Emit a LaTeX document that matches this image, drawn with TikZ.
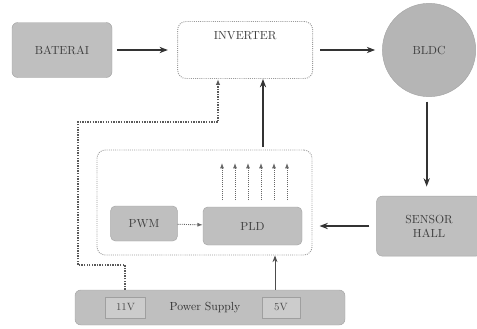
\documentclass[tikz,border=0pt]{standalone}
\usepackage{tikz}
\usetikzlibrary{arrows.meta, positioning, shapes.geometric, fit, calc}

\begin{document}
\begin{tikzpicture}[
    node distance=1.9cm and 2.0cm,
    block/.style={rectangle, draw=gray!70, rounded corners=5pt, fill=gray!50, minimum height=1.65cm, minimum width=3.0cm, align=center, font=\normalsize, text=black!75},
    small/.style={rectangle, draw=gray!70, rounded corners=4pt, fill=gray!50, minimum height=1.05cm, minimum width=2.0cm, align=center, font=\normalsize, text=black!75},
    frame/.style={rectangle, draw=gray!80, densely dotted, thick, rounded corners=7pt, fill=white},
    volt/.style={rectangle, draw=gray!75, fill=gray!40, minimum height=0.63cm, minimum width=1.2cm, font=\small, text=black!70},
    arr/.style={-{Stealth[length=2.5mm]}, line width=1.6pt, black!80},
    thin/.style={-{Stealth[length=2mm]}, line width=0.8pt, black!70},
    sig/.style={-{Latex[length=1.6mm]}, densely dotted, thick, gray!80!black},
    fb/.style={-{Latex[length=1.8mm]}, densely dotted, line width=1.2pt, gray!70!black},
]
    \useasboundingbox (0,0) rectangle (14.31,-9.87);

    \node[block] (bat) at (1.86,-1.5) {BATERAI};
    \node[frame, minimum width=4.05cm, minimum height=1.71cm, right=1.95cm of bat, align=center, font=\normalsize, text=black!75] (inv) {INVERTER\\[0.45cm]};
    \node[circle, draw=gray!70, fill=gray!58, minimum size=2.8cm, font=\normalsize, text=black!75, right=2.07cm of inv] (bldc) {BLDC};
    \node[block, minimum width=3.15cm, minimum height=1.8cm, below=2.97cm of bldc] (hall) {SENSOR\\HALL};

    % kontroler
    \node[frame, minimum width=6.45cm, minimum height=3.15cm] (ctrl) at (6.135,-6.075) {};
    \node[small] (pwm) at (4.32,-6.705) {PWM};
    \node[small, minimum width=2.97cm, minimum height=1.14cm] (pld) at (7.575,-6.78) {PLD};

    % catu daya
    \node[block, minimum width=8.1cm, minimum height=1.05cm] (psu) at (6.3,-9.225) {};
    \node[volt] (v1) at (3.765,-9.225) {11V};
    \node[font=\normalsize, text=black!80] (pslabel) at (6.15,-9.225) {Power Supply};
    \node[volt, minimum width=1.14cm] (v2) at (8.43,-9.225) {5V};

    \coordinate (upx) at (7.89,0);
    \coordinate (psx) at (8.25,0);

    \draw[arr, shorten <=4pt, shorten >=8pt] (bat) -- (inv);
    \draw[arr, shorten <=6pt, shorten >=6pt] (inv) -- (bldc);
    \draw[arr, shorten <=4pt, shorten >=8pt] (bldc.south -| 12.8,0) -- (hall.north -| 12.8,0);
    \draw[arr, shorten <=6pt, shorten >=6pt] (hall.west |- pld) -- (ctrl.east |- pld);
    \draw[arr, shorten <=2pt] (ctrl.north -| upx) -- (inv.south -| upx);
    \draw[sig] (pwm) -- (pld);
    \foreach \x in {6.66,7.05,7.44,7.83,8.22,8.61}
        \draw[sig] (\x,-6.0) -- (\x,-4.89);
    \draw[thin] (psu.north -| psx) -- (ctrl.south -| psx);
    \draw[fb] (psu.north -| 3.75,0) |- (2.34,-7.95) |- (6.54,-3.66) -- (inv.south -| 6.54,0);
\end{tikzpicture}
\end{document}
